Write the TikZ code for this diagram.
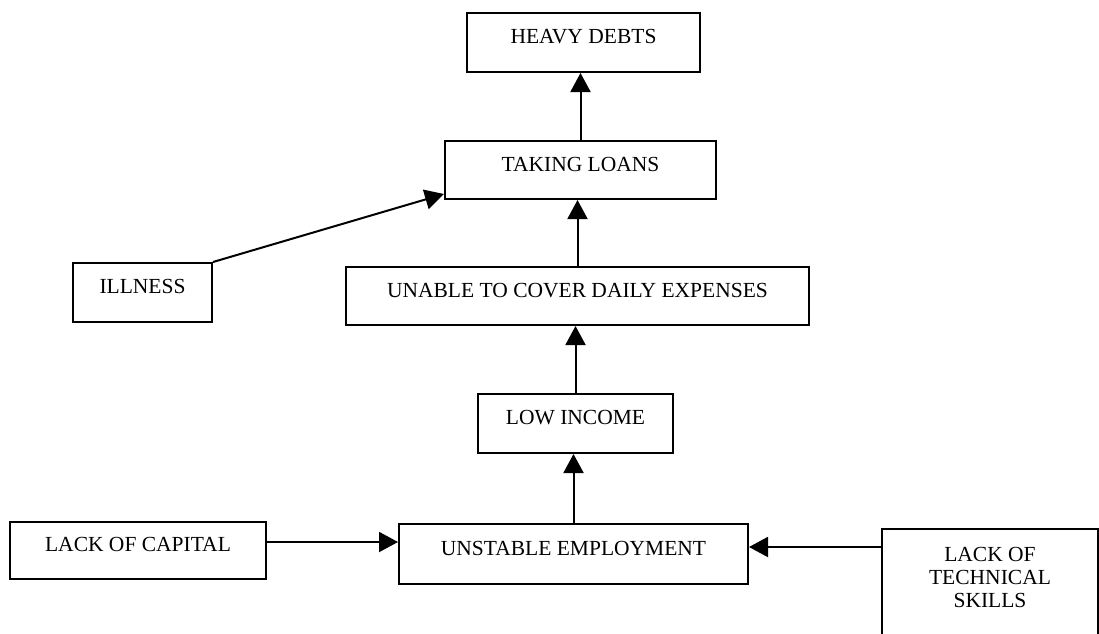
\documentclass[tikz,border=0pt]{standalone}
\usepackage{fontspec}
\setmainfont{Liberation Serif}
\usetikzlibrary{arrows.meta,calc}
\begin{document}
\begin{tikzpicture}[x=1pt,y=-1pt,
  box/.style={draw, line width=2pt, inner sep=0pt, text height=12pt, text depth=10pt, font=\fontsize{21.5}{23}\selectfont},
  txt/.style={inner sep=0pt, font=\fontsize{21.5}{23}\selectfont},
  boxline/.style={line width=2pt},
  arr/.style={line width=2pt, -{Triangle[length=19pt,width=20pt]}}]
\useasboundingbox (0,0) rectangle (1099,633);
\fill[white] (0,0) rectangle (1099,633);
% boxes
\node[box, minimum width=233pt, minimum height=59pt] (heavy) at (583.5,42.5) {HEAVY DEBTS};
\node[box, minimum width=271pt, minimum height=58pt] (loans) at (580.5,170) {TAKING LOANS};
\node[box, minimum width=139pt, minimum height=59pt] (ill) at (142.5,292.5) {ILLNESS};
\node[box, minimum width=463pt, minimum height=58pt] (unable) at (577.5,296) {UNABLE TO COVER DAILY EXPENSES};
\node[box, minimum width=195pt, minimum height=59pt] (low) at (575.5,423.5) {LOW INCOME};
\node[box, minimum width=256pt, minimum height=57pt] (cap) at (138,550.5) {LACK OF CAPITAL};
\node[box, minimum width=349pt, minimum height=60pt] (unst) at (573.5,554) {UNSTABLE EMPLOYMENT};
% partly cut-off box at the right
\node[txt, align=center] (tech) at (990,577) {LACK OF\\TECHNICAL\\SKILLS};
\draw[boxline] (882,634) -- (882,529) -- (1098,529) -- (1098,634);
% connector end points
\coordinate (ycap) at (0,542);
\coordinate (techL) at (882,547);
% connectors
\draw[arr] (loans.north) -- (loans.north |- heavy.south);
\draw[arr] (unable.north) -- (unable.north |- loans.south);
\draw[arr] (low.north) -- (low.north |- unable.south);
\draw[arr] (unst.north) -- (unst.north |- low.south);
\draw[arr] (ill.north east) -- ($(loans.south west)+(0,-6)$);
\draw[arr] (cap.east |- ycap) -- (unst.west |- ycap);
\draw[arr] (techL) -- (unst.east |- techL);
\end{tikzpicture}
\end{document}
